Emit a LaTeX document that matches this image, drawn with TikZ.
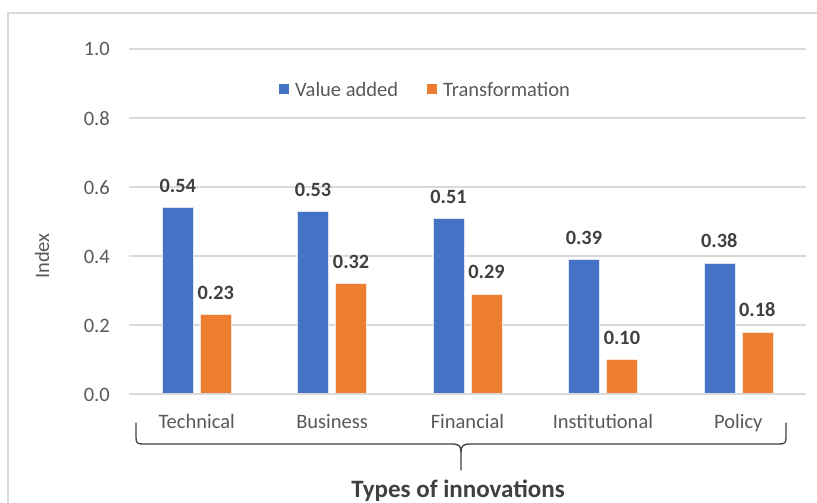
\documentclass[tikz,border=0pt]{standalone}
\usepackage{fontspec}
\setmainfont{Carlito}
\definecolor{cblue}{HTML}{4472C4}
\definecolor{corange}{HTML}{ED7D31}
\definecolor{cgrid}{HTML}{D9D9D9}
\definecolor{caxis}{HTML}{595959}
\definecolor{cval}{HTML}{404040}
\tikzset{
  gridline/.style={draw=cgrid, line width=1.3pt},
  plaintext/.style={text=caxis, inner sep=0pt, font=\fontsize{20.5}{24}\selectfont},
  ticklabel/.style={plaintext, anchor=base east},
  catlabel/.style={plaintext, anchor=base},
  vallabel/.style={text=cval, inner sep=0pt, anchor=base, font=\fontsize{20.3}{24}\selectfont\bfseries},
  barA/.style={fill=cblue, draw=white!80!cblue, line width=0.6pt},
  barB/.style={fill=corange, draw=white!80!corange, line width=0.6pt},
  bracepath/.style={draw=cval, line width=1.3pt, line cap=round, line join=round},
}
\begin{document}
\begin{tikzpicture}[x=1pt,y=-1pt]
\useasboundingbox (0,0) rectangle (817,503);
\fill[white] (0,0) rectangle (817,503);
% chart frame (cropped on right and bottom)
\draw[draw=cgrid, line width=1.6pt] (8,530) -- (8,13) -- (840,13);
% gridlines and tick labels
\foreach \i/\t in {0/0.0,1/0.2,2/0.4,3/0.6,4/0.8,5/1.0}{
  \pgfmathsetmacro\yy{394-69*\i}
  \draw[gridline] (129,\yy) -- (806,\yy);
  \node[ticklabel] (tick\i) at (110,\yy+7) {\t};
}
% axis title
\node[plaintext, rotate=90] (ytitle) at (42,256) {Index};
% legend
\fill[cblue] (279,84) rectangle (289,94);
\node[plaintext, anchor=base west] (legA) at (295,96) {Value added};
\fill[corange] (427,84) rectangle (437,94);
\node[plaintext, anchor=base west] (legB) at (443,96) {Transformation};
% bars
\foreach \k/\a/\b/\c in {0/0.54/0.23/Technical,1/0.53/0.32/Business,2/0.51/0.29/Financial,3/0.39/0.10/Institutional,4/0.38/0.18/Policy}{
  \pgfmathsetmacro\cx{196.7+135.4*\k}
  \pgfmathsetmacro\ta{394-\a*345}
  \pgfmathsetmacro\tb{394-\b*345}
  \path[barA] (\cx-34.5,394) rectangle (\cx-3.5,\ta);
  \path[barB] (\cx+3.5,394) rectangle (\cx+34.5,\tb);
  \node[vallabel] (va\k) at (\cx-19,\ta-15) {\a};
  \node[vallabel] (vb\k) at (\cx+19,\tb-15) {\b};
  \node[catlabel] (cat\k) at (\cx,428) {\c};
}
% baseline on top of bars
\draw[gridline] (129,394) -- (806,394);
% brace
\coordinate (bl) at (136,423);
\coordinate (br) at (786,423);
\coordinate (btip) at (461,470);
\draw[bracepath] (bl) -- (136,437) .. controls (136,443) and (137,444) .. (143,444) -- (452,444) .. controls (459,444) and (461,446) .. (461,452) -- (btip);
\draw[bracepath] (br) -- (786,437) .. controls (786,443) and (785,444) .. (779,444) -- (470,444) .. controls (463,444) and (461,446) .. (461,452);
% x-axis title
\node[text=cval, inner sep=0pt, anchor=base, font=\fontsize{25}{30}\selectfont\bfseries] (xtitle) at (458,497) {Types of innovations};
\end{tikzpicture}
\end{document}
